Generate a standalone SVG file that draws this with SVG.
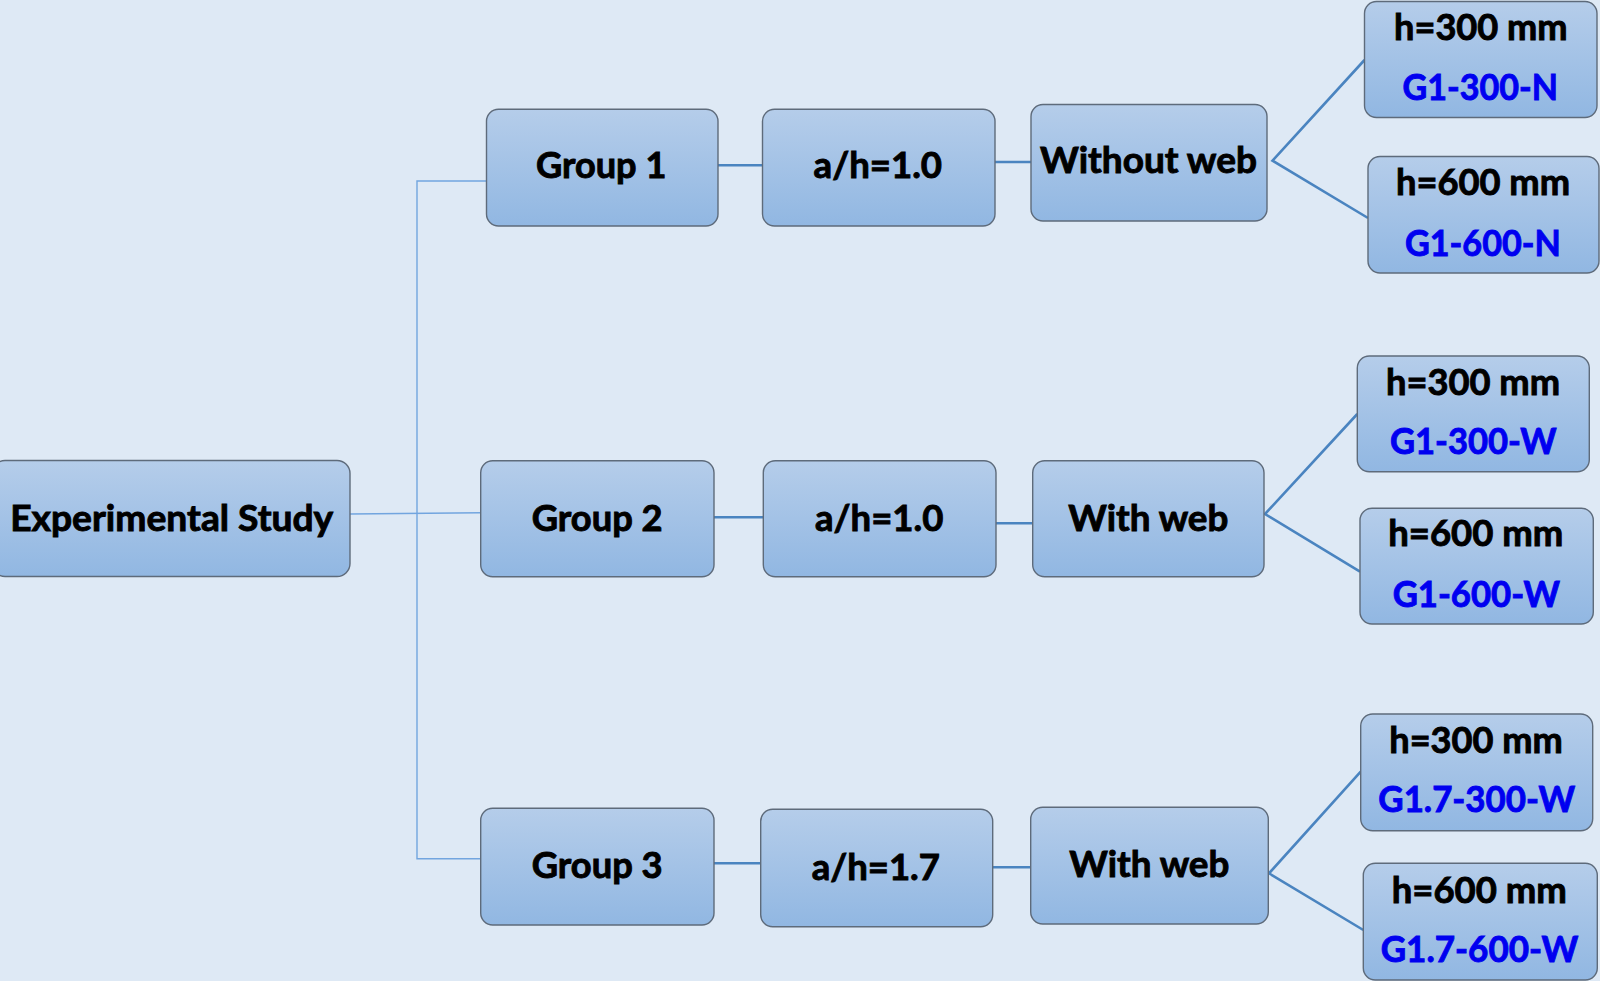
<svg xmlns="http://www.w3.org/2000/svg" width="1600" height="981" viewBox="0 0 1600 981">
  <defs>
    <linearGradient id="boxFill" x1="0" y1="0" x2="0" y2="1">
      <stop offset="0" stop-color="#b5cdea"/>
      <stop offset="1" stop-color="#91b7e2"/>
    </linearGradient>
  </defs>
  <style>
    .box { fill: url(#boxFill); stroke: #5e6b7b; stroke-width: 1.4; }
    .lbl { font-family: Lato, "Open Sans", "Liberation Sans", sans-serif; font-weight: bold; font-size: 36px; fill: #000; stroke: #000; stroke-width: 0.9; text-anchor: middle; }
    .code { fill: #0000f0; stroke: #0000f0; }
    .thin { fill: none; stroke: #72a5df; stroke-width: 1.4; }
    .link { fill: none; stroke: #4a84c0; stroke-width: 2.6; }
  </style>

  <rect x="0" y="0" width="1600" height="981" fill="#dee9f5"/>

  <!-- connectors -->
  <g id="connectors">
    <path class="thin" d="M350,514 L480.7,512.7"/>
    <path class="thin" d="M486.5,181 H417 V858.7 H480.7"/>
    <path class="link" d="M718,165.3 H762.5"/>
    <path class="link" d="M995,162 H1031"/>
    <path class="link" d="M1364.5,60 L1272.5,160.7 L1368,218"/>
    <path class="link" d="M714,517.3 H763.3"/>
    <path class="link" d="M996,523.3 H1032.7"/>
    <path class="link" d="M1357.3,414 L1265,514 L1360,571.7"/>
    <path class="link" d="M714,863.3 H760.7"/>
    <path class="link" d="M992.7,867.3 H1030.7"/>
    <path class="link" d="M1360.7,771.7 L1269,873.3 L1363.3,930"/>
  </g>

  <!-- root -->
  <g id="experimental-study">
    <rect class="box" x="-8" y="460.5" width="358" height="116" rx="13"/>
    <text class="lbl" x="171.7" y="530.7" textLength="323" lengthAdjust="spacingAndGlyphs">Experimental Study</text>
  </g>

  <!-- row 1 -->
  <g id="group-1">
    <rect class="box" x="486.5" y="109.3" width="231.5" height="116.7" rx="12"/>
    <text class="lbl" x="601.2" y="178.3" textLength="130.4" lengthAdjust="spacingAndGlyphs">Group 1</text>
  </g>
  <g id="ratio-1">
    <rect class="box" x="762.5" y="109.3" width="232.5" height="116.7" rx="12"/>
    <text class="lbl" x="877.8" y="178.3" textLength="128.4" lengthAdjust="spacingAndGlyphs">a/h=1.0</text>
  </g>
  <g id="without-web">
    <rect class="box" x="1031" y="104.5" width="236" height="116.5" rx="12"/>
    <text class="lbl" x="1148.5" y="173.3" textLength="217" lengthAdjust="spacingAndGlyphs">Without web</text>
  </g>
  <g id="g1-300-n">
    <rect class="box" x="1364.5" y="1.5" width="232.5" height="116" rx="12"/>
    <text class="lbl" x="1480.8" y="40" textLength="173.5" lengthAdjust="spacingAndGlyphs">h=300 mm</text>
    <text class="lbl code" x="1480.3" y="100" textLength="155.4" lengthAdjust="spacingAndGlyphs">G1-300-N</text>
  </g>
  <g id="g1-600-n">
    <rect class="box" x="1368" y="156.5" width="231" height="116.5" rx="12"/>
    <text class="lbl" x="1483" y="195" textLength="174" lengthAdjust="spacingAndGlyphs">h=600 mm</text>
    <text class="lbl code" x="1482.9" y="256" textLength="155.7" lengthAdjust="spacingAndGlyphs">G1-600-N</text>
  </g>

  <!-- row 2 -->
  <g id="group-2">
    <rect class="box" x="480.7" y="460.7" width="233.3" height="116" rx="12"/>
    <text class="lbl" x="597.2" y="530.7" textLength="131" lengthAdjust="spacingAndGlyphs">Group 2</text>
  </g>
  <g id="ratio-2">
    <rect class="box" x="763.3" y="460.7" width="232.7" height="116" rx="12"/>
    <text class="lbl" x="879.2" y="530.7" textLength="128.3" lengthAdjust="spacingAndGlyphs">a/h=1.0</text>
  </g>
  <g id="with-web-2">
    <rect class="box" x="1032.7" y="460.7" width="231.3" height="116" rx="12"/>
    <text class="lbl" x="1148.3" y="530.7" textLength="160" lengthAdjust="spacingAndGlyphs">With web</text>
  </g>
  <g id="g1-300-w">
    <rect class="box" x="1357.3" y="356" width="232" height="115.7" rx="12"/>
    <text class="lbl" x="1473" y="395" textLength="174" lengthAdjust="spacingAndGlyphs">h=300 mm</text>
    <text class="lbl code" x="1473.3" y="454.3" textLength="166.7" lengthAdjust="spacingAndGlyphs">G1-300-W</text>
  </g>
  <g id="g1-600-w">
    <rect class="box" x="1360" y="508.3" width="233.3" height="115.7" rx="12"/>
    <text class="lbl" x="1475.8" y="546" textLength="175" lengthAdjust="spacingAndGlyphs">h=600 mm</text>
    <text class="lbl code" x="1476.3" y="606.7" textLength="167.3" lengthAdjust="spacingAndGlyphs">G1-600-W</text>
  </g>

  <!-- row 3 -->
  <g id="group-3">
    <rect class="box" x="480.7" y="808.3" width="233.3" height="116.7" rx="12"/>
    <text class="lbl" x="597.2" y="878.3" textLength="131" lengthAdjust="spacingAndGlyphs">Group 3</text>
  </g>
  <g id="ratio-3">
    <rect class="box" x="760.7" y="809.3" width="232" height="117.4" rx="12"/>
    <text class="lbl" x="875.8" y="880" textLength="128.3" lengthAdjust="spacingAndGlyphs">a/h=1.7</text>
  </g>
  <g id="with-web-3">
    <rect class="box" x="1030.7" y="807.3" width="237.6" height="116.7" rx="12"/>
    <text class="lbl" x="1149.3" y="876.7" textLength="160" lengthAdjust="spacingAndGlyphs">With web</text>
  </g>
  <g id="g17-300-w">
    <rect class="box" x="1360.7" y="714" width="232" height="116.7" rx="12"/>
    <text class="lbl" x="1476" y="753.3" textLength="173.4" lengthAdjust="spacingAndGlyphs">h=300 mm</text>
    <text class="lbl code" x="1476.7" y="811.7" textLength="196.7" lengthAdjust="spacingAndGlyphs">G1.7-300-W</text>
  </g>
  <g id="g17-600-w">
    <rect class="box" x="1363.3" y="863.3" width="234" height="116.7" rx="12"/>
    <text class="lbl" x="1479.2" y="903.3" textLength="175" lengthAdjust="spacingAndGlyphs">h=600 mm</text>
    <text class="lbl code" x="1479.5" y="961.7" textLength="197.6" lengthAdjust="spacingAndGlyphs">G1.7-600-W</text>
  </g>
</svg>
